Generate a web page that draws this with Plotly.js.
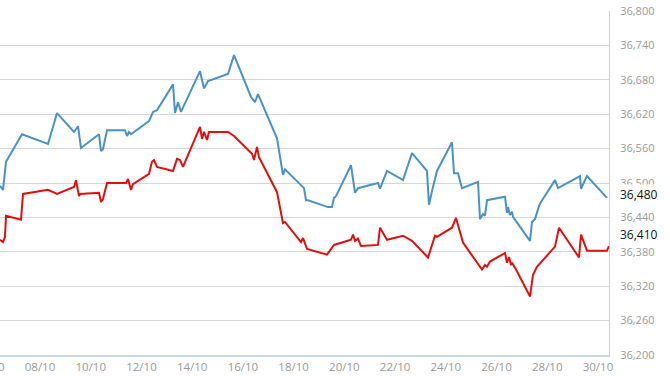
<!DOCTYPE html>
<html>
<head>
<meta charset="utf-8">
<script src="https://cdn.plot.ly/plotly-3.0.1.min.js"></script>
<style>
html,body{margin:0;padding:0;background:#fff;}
#chart{width:670px;height:376px;}
</style>
</head>
<body>
<div id="chart"></div>
<script>
// x values: day of October (fractional)
const blueDays = [6.422,6.540,6.659,7.289,8.315,8.670,9.340,9.498,9.616,10.326,10.404,10.483,10.641,11.351,11.430,11.508,11.587,12.297,12.455,12.613,13.244,13.323,13.441,13.559,14.308,14.466,14.624,15.412,15.649,16.319,16.477,16.595,17.344,17.581,17.660,18.409,18.488,18.567,19.355,19.513,19.592,19.671,20.262,20.420,20.538,21.327,21.405,21.681,22.313,22.667,23.258,23.337,23.456,23.653,24.244,24.323,24.481,24.638,25.269,25.349,25.467,25.546,25.625,26.334,26.413,26.453,26.532,26.611,26.650,27.320,27.399,27.517,27.675,27.754,28.306,28.424,29.291,29.331,29.567,30.356];
const blueValues = [36495,36488,36537,36585,36568,36622,36589,36599,36561,36585,36556,36559,36592,36592,36582,36589,36585,36608,36624,36627,36672,36622,36641,36624,36695,36665,36678,36690,36723,36650,36641,36655,36578,36514,36524,36491,36470,36470,36458,36458,36474,36477,36531,36483,36491,36500,36490,36521,36505,36552,36521,36462,36486,36521,36571,36517,36517,36491,36502,36437,36446,36443,36470,36476,36448,36458,36444,36450,36441,36399,36432,36437,36460,36467,36505,36491,36512,36490,36512,36474];

const redDays = [6.422,6.540,6.619,6.659,7.250,7.329,8.315,8.670,9.340,9.419,9.537,9.577,10.326,10.404,10.483,10.641,11.390,11.469,11.587,11.666,12.297,12.415,12.494,12.613,13.244,13.401,13.520,13.638,14.308,14.387,14.466,14.584,14.663,15.412,15.649,16.359,16.438,16.556,16.635,17.344,17.581,17.660,18.291,18.370,18.527,19.316,19.592,20.262,20.341,20.420,20.538,20.656,21.327,21.405,21.681,22.313,22.667,23.298,23.574,23.653,24.244,24.402,24.678,25.349,25.427,25.546,25.625,25.743,26.334,26.413,26.493,26.571,26.611,26.769,27.320,27.438,27.596,28.306,28.464,29.252,29.331,29.567,30.356,30.435];
const redValues = [36401,36397,36406,36443,36436,36481,36488,36481,36493,36505,36477,36481,36483,36467,36472,36500,36500,36507,36488,36498,36516,36537,36540,36528,36521,36542,36540,36528,36598,36577,36589,36575,36589,36589,36582,36551,36540,36563,36545,36484,36430,36432,36397,36404,36385,36375,36392,36401,36410,36399,36403,36390,36392,36422,36401,36408,36399,36370,36408,36406,36422,36439,36396,36352,36349,36357,36354,36363,36378,36361,36371,36357,36361,36349,36302,36340,36354,36389,36422,36370,36410,36382,36382,36390];

const tickDays = [8,10,12,14,16,18,20,22,24,26,28,30];
const tickLabels = ["08/10","10/10","12/10","14/10","16/10","18/10","20/10","22/10","24/10","26/10","28/10","30/10"];
const yTicks = [36200,36260,36320,36380,36440,36500,36560,36620,36680,36740,36800];
const lastLabels = [{value:36480,text:"36,480"},{value:36410,text:"36,410"}];

const traces = [
  {x: blueDays, y: blueValues, type:'scatter', mode:'lines',
   line:{color:'#4a92c6', width:2}, hoverinfo:'skip'},
  {x: redDays, y: redValues, type:'scatter', mode:'lines',
   line:{color:'#e01010', width:2}, hoverinfo:'skip'}
];

const annotations = lastLabels.map(l => ({
  xref:'paper', x:1, xanchor:'left', xshift:9,
  yref:'y', y:l.value, yanchor:'middle',
  text:l.text, showarrow:false, bgcolor:'#ffffff',
  font:{family:'Open Sans, sans-serif', size:12, color:'#111'}
}));
annotations.push({
  xref:'paper', x:0, xanchor:'center', xshift:-10.7,
  yref:'paper', y:0, yanchor:'top', yshift:-2,
  text:'06/10', showarrow:false,
  font:{family:'Open Sans, sans-serif', size:11.5, color:'#999'}
});

const layout = {
  width:670, height:376,
  margin:{l:0, r:61, t:11, b:21},
  paper_bgcolor:'#ffffff', plot_bgcolor:'#ffffff',
  showlegend:false,
  xaxis:{
    range:[6.422, 30.435], tickvals:tickDays, ticktext:tickLabels,
    showgrid:false, zeroline:false, showline:true, linecolor:'#ccd6e0', linewidth:2,
    ticks:'', tickfont:{family:'Open Sans, sans-serif', size:11.5, color:'#999'}
  },
  yaxis:{
    side:'right', range:[36200,36800], tickvals:yTicks, tickformat:',d',
    showgrid:true, gridcolor:'#d6d6d6', gridwidth:1, zeroline:false,
    showline:true, linecolor:'#d0d0d0', linewidth:1,
    ticks:'outside', ticklen:8, tickcolor:'rgba(0,0,0,0)',
    tickfont:{family:'Open Sans, sans-serif', size:11, color:'#999'}
  },
  annotations: annotations
};

Plotly.newPlot('chart', traces, layout, {displayModeBar:false, staticPlot:true});
</script>
</body>
</html>
